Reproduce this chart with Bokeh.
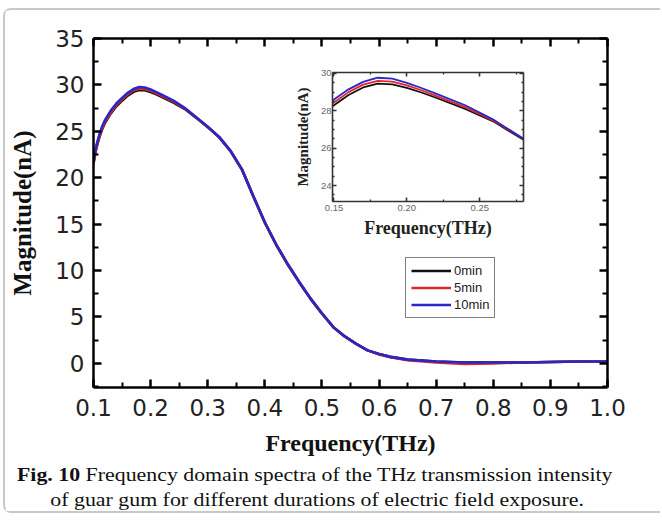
from bokeh.plotting import figure
from bokeh.models import (Range1d, LinearAxis, FixedTicker, Legend, LegendItem, Div,
                          NumeralTickFormatter)
from bokeh.layouts import column
from bokeh.embed import file_html
from bokeh.resources import INLINE

# ---------------- data ----------------
freq = [0.100, 0.105, 0.110, 0.115, 0.120, 0.130, 0.140, 0.150, 0.160, 0.170,
        0.180, 0.190, 0.200, 0.210, 0.220, 0.240, 0.260, 0.280, 0.300, 0.320,
        0.340, 0.360, 0.380, 0.400, 0.420, 0.440, 0.460, 0.480, 0.500, 0.520,
        0.540, 0.560, 0.580, 0.600, 0.620, 0.650, 0.700, 0.750, 0.800, 0.850,
        0.900, 0.950, 1.000]
mag_0min = [21.6, 23.2, 24.3, 25.2, 25.9, 26.9, 27.7, 28.3, 28.85, 29.25,
            29.45, 29.42, 29.23, 28.98, 28.7, 28.1, 27.4, 26.45, 25.45, 24.35,
            22.85, 20.85, 17.95, 15.15, 12.75, 10.65, 8.75, 6.95, 5.35, 3.9,
            2.9, 2.1, 1.4, 1.0, 0.7, 0.4, 0.2, 0.1, 0.1, 0.1,
            0.15, 0.2, 0.2]
mag_5min = [21.5, 23.3, 24.4, 25.3, 26.0, 27.0, 27.85, 28.45, 29.0, 29.4,
            29.6, 29.56, 29.36, 29.1, 28.8, 28.2, 27.45, 26.5, 25.5, 24.4,
            22.9, 20.9, 18.0, 15.2, 12.8, 10.7, 8.8, 7.0, 5.4, 3.9,
            2.9, 2.1, 1.4, 0.95, 0.65, 0.35, 0.1, -0.05, 0.0, 0.1,
            0.15, 0.2, 0.2]
mag_10min = [21.7, 23.5, 24.6, 25.5, 26.2, 27.2, 28.0, 28.6, 29.15, 29.55,
             29.77, 29.72, 29.5, 29.22, 28.92, 28.3, 27.5, 26.5, 25.5, 24.4,
             22.9, 20.9, 18.0, 15.2, 12.8, 10.7, 8.8, 7.0, 5.4, 3.9,
             2.9, 2.1, 1.4, 1.0, 0.7, 0.4, 0.2, 0.1, 0.1, 0.1,
             0.15, 0.2, 0.2]
series_names = ["0min", "5min", "10min"]
series_values = [mag_0min, mag_5min, mag_10min]
series_colors = ["#111111", "#e0262a", "#2c26c4"]

x_major = [0.1, 0.2, 0.3, 0.4, 0.5, 0.6, 0.7, 0.8, 0.9, 1.0]
x_minor = [0.15, 0.25, 0.35, 0.45, 0.55, 0.65, 0.75, 0.85, 0.95]
y_major = [0, 5, 10, 15, 20, 25, 30, 35]
y_minor = [-2.5, 2.5, 7.5, 12.5, 17.5, 22.5, 27.5, 32.5]
inset_x_major = [0.15, 0.20, 0.25]
inset_x_minor = [0.175, 0.225, 0.275]
inset_y_major = [24, 26, 28, 30]
inset_y_minor = [23.5, 24.5, 25, 25.5, 26.5, 27, 27.5, 28.5, 29, 29.5]

caption_bold = "Fig. 10"
caption_line1 = "Frequency domain spectra of the THz transmission intensity"
caption_line2 = "of guar gum for different durations of electric field exposure."

SERIF = "Liberation Serif"
SANS = "DejaVu Sans"

# ---------------- main figure ----------------
p = figure(width=657, height=505, x_range=Range1d(0.1, 1.0), y_range=Range1d(-2.6, 35),
           output_backend="svg", toolbar_location=None,
           min_border_left=88, min_border_right=55, min_border_top=28, min_border_bottom=128)
p.grid.visible = False
p.outline_line_color = None
p.background_fill_color = "white"
p.border_fill_color = "white"


def style_axis(ax, width=2.5, tin=8, mtin=5, color="black"):
    ax.axis_line_width = width
    ax.axis_line_color = color
    ax.major_tick_line_width = width
    ax.minor_tick_line_width = width * 0.8
    ax.major_tick_line_color = color
    ax.minor_tick_line_color = color
    ax.major_tick_in = tin
    ax.major_tick_out = 0
    ax.minor_tick_in = mtin
    ax.minor_tick_out = 0


xa = p.xaxis[0]
xa.ticker = FixedTicker(ticks=x_major, minor_ticks=x_minor)
xa.formatter = NumeralTickFormatter(format="0.0")
style_axis(xa)
xa.major_label_text_font = SANS
xa.major_label_text_font_size = "23px"
xa.major_label_text_color = "#222222"
xa.major_label_standoff = 11
xa.axis_label = "Frequency(THz)"
xa.axis_label_text_font = SERIF
xa.axis_label_text_font_style = "bold"
xa.axis_label_text_font_size = "24px"
xa.axis_label_text_color = "#111111"
xa.axis_label_standoff = 11

ya = p.yaxis[0]
ya.ticker = FixedTicker(ticks=y_major, minor_ticks=y_minor)
ya.formatter = NumeralTickFormatter(format="0")
style_axis(ya)
ya.major_label_text_font = SANS
ya.major_label_text_font_size = "23px"
ya.major_label_text_color = "#222222"
ya.major_label_standoff = 9
ya.axis_label = "Magnitude(nA)"
ya.axis_label_text_font = SERIF
ya.axis_label_text_font_style = "bold"
ya.axis_label_text_font_size = "25px"
ya.axis_label_text_color = "#111111"
ya.axis_label_standoff = 16

top_ax = LinearAxis(ticker=FixedTicker(ticks=x_major, minor_ticks=x_minor),
                    major_label_overrides={t: "" for t in x_major})
style_axis(top_ax)
p.add_layout(top_ax, "above")
right_ax = LinearAxis(ticker=FixedTicker(ticks=y_major, minor_ticks=y_minor),
                      major_label_overrides={t: "" for t in y_major})
style_axis(right_ax)
p.add_layout(right_ax, "right")

renderers = []
for name, vals, col in zip(series_names, series_values, series_colors):
    r = p.line(freq, vals, line_color=col, line_width=2.6)
    renderers.append(r)

legend = Legend(items=[LegendItem(label=n, renderers=[r]) for n, r in zip(series_names, renderers)],
                location=(312, 69))
legend.border_line_color = "black"
legend.border_line_width = 1.5
legend.background_fill_color = "white"
legend.background_fill_alpha = 1
legend.label_text_font = "Liberation Sans"
legend.label_text_font_size = "13px"
legend.label_text_color = "#222222"
legend.glyph_width = 40
legend.glyph_height = 15
legend.label_height = 15
legend.spacing = 2
legend.padding = 5
legend.margin = 0
legend.label_standoff = 3
p.add_layout(legend, "center")

p.styles = {"margin-left": "3px", "margin-top": "8px",
            "border-left": "2px solid #c8c8c8", "border-top": "2px solid #c8c8c8",
            "border-bottom": "2px solid #c8c8c8",
            "border-top-left-radius": "8px", "border-bottom-left-radius": "8px"}

# ---------------- inset ----------------
# (inside a column Bokeh aligns the plot borders to the main figure: 88 left, 55 right)
ins = figure(width=334, height=176, x_range=Range1d(0.149, 0.28), y_range=Range1d(23.15, 30.05),
             output_backend="svg", toolbar_location=None,
             min_border_left=88, min_border_right=55, min_border_top=8, min_border_bottom=38)
ins.grid.visible = False
ins.outline_line_color = None
ins.border_fill_alpha = 0
ins.background_fill_color = "white"

ixa = ins.xaxis[0]
ixa.ticker = FixedTicker(ticks=inset_x_major, minor_ticks=inset_x_minor)
ixa.formatter = NumeralTickFormatter(format="0.00")
style_axis(ixa, width=1.6, tin=4, mtin=2, color="#333333")
ixa.major_label_text_font = "Liberation Sans"
ixa.major_label_text_font_size = "9.5px"
ixa.major_label_text_color = "#666666"
ixa.major_label_standoff = 3
ixa.axis_label = "Frequency(THz)"
ixa.axis_label_text_font = SERIF
ixa.axis_label_text_font_style = "bold"
ixa.axis_label_text_font_size = "18px"
ixa.axis_label_text_color = "#222222"
ixa.axis_label_standoff = 4

iya = ins.yaxis[0]
iya.ticker = FixedTicker(ticks=inset_y_major, minor_ticks=inset_y_minor)
iya.formatter = NumeralTickFormatter(format="0")
style_axis(iya, width=1.6, tin=4, mtin=2, color="#333333")
iya.major_label_text_font = "Liberation Sans"
iya.major_label_text_font_size = "9.5px"
iya.major_label_text_color = "#666666"
iya.major_label_standoff = 1
iya.axis_label = "Magnitude(nA)"
iya.axis_label_text_font = SERIF
iya.axis_label_text_font_style = "bold"
iya.axis_label_text_font_size = "15px"
iya.axis_label_text_color = "#222222"
iya.axis_label_standoff = 7

itop = LinearAxis(ticker=FixedTicker(ticks=inset_x_major, minor_ticks=inset_x_minor),
                  major_label_overrides={t: "" for t in inset_x_major})
style_axis(itop, width=1.6, tin=4, mtin=2, color="#333333")
ins.add_layout(itop, "above")
iright = LinearAxis(ticker=FixedTicker(ticks=inset_y_major, minor_ticks=inset_y_minor),
                    major_label_overrides={t: "" for t in inset_y_major})
style_axis(iright, width=1.6, tin=4, mtin=2, color="#333333")
ins.add_layout(iright, "right")

for vals, col in zip(series_values, series_colors):
    ins.line(freq, vals, line_color=col, line_width=1.8)

ins.styles = {"position": "absolute", "left": "244px", "top": "64px", "z-index": "2"}

# ---------------- caption ----------------
caption_html = (
    '<div style="white-space:nowrap"><b>%s</b> %s</div>'
    '<div style="white-space:nowrap; padding-left:29px">%s</div>'
    % (caption_bold, caption_line1, caption_line2)
)
cap = Div(text=caption_html, width=560, height=52,
          styles={"position": "absolute", "left": "12px", "top": "457px", "z-index": "3",
                  "font-family": "'Liberation Serif', serif", "font-size": "19px",
                  "line-height": "25px", "color": "#111111",
                  "transform": "scaleX(1.15)", "transform-origin": "0 0"})

layout = column(p, ins, cap)
layout.styles = {"position": "relative"}

open("out.html", "w").write(file_html(layout, INLINE))
